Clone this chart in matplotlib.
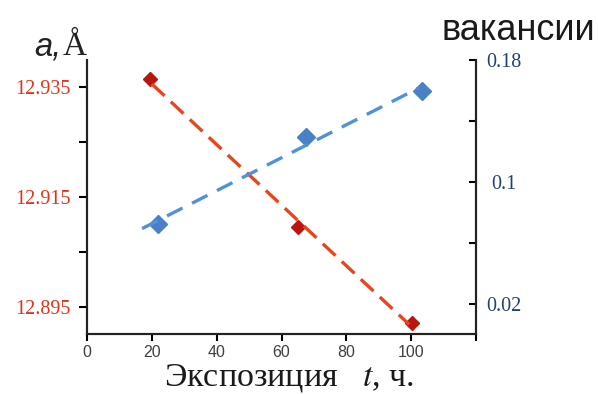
import numpy as np
import matplotlib
matplotlib.use("Agg")
import matplotlib.pyplot as plt

# Exposure time, hours
t_lattice = [19.4, 65.0, 100.2]
lattice_a = [12.9365, 12.9095, 12.8920]   # lattice parameter a, Å

t_vac = [21.8, 67.6, 103.3]
vacancies = [0.072, 0.1296, 0.1595]

x_ticks = [0, 20, 40, 60, 80, 100, 120]
x_ticklabels = ["0", "20", "40", "60", "80", "100", ""]
left_ticks = [12.895, 12.905, 12.915, 12.925, 12.935]
left_ticklabels = ["12.895", "", "12.915", "", "12.935"]
right_ticks = [0.02, 0.06, 0.10, 0.14, 0.18]
right_ticklabels = ["0.02", "", "0.1", "", "0.18"]

RED_LINE = "#e8451e"
RED_MARK = "#b8170f"
BLUE_LINE = "#4f93d6"
BLUE_MARK = "#4a80c6"

plt.rcParams["mathtext.fontset"] = "stix"

fig = plt.figure(figsize=(5.98, 3.94), dpi=100)
W, H = 598, 394
ax = fig.add_axes([87 / W, 1 - 334 / H, (476 - 87) / W, (334 - 60) / H])
ax2 = ax.twinx()

# Lattice parameter: points and linear trend
ax.plot(t_lattice, lattice_a, linestyle="none", marker="D", ms=7.5,
        color=RED_MARK, zorder=3)
k, b = np.polyfit(t_lattice, lattice_a, 1)
tt = np.array([20.0, 99.4])
ax.plot(tt, k * tt + b, color=RED_LINE, lw=2.4, dashes=(5.2, 2.6), zorder=4)

# Vacancies: points and linear trend
ax2.plot(t_vac, vacancies, linestyle="none", marker="D", ms=9.5,
         color=BLUE_MARK, zorder=3)
k2, b2 = np.polyfit(t_vac, vacancies, 1)
tv = np.array([17.0, 102.5])
ax2.plot(tv, k2 * tv + b2, color=BLUE_LINE, lw=2.4, dashes=(5.2, 3.2), zorder=4)

ax.set_xlim(0, 120)
ax.set_ylim(12.89, 12.94)
ax2.set_ylim(0, 0.18)

ax.set_xticks(x_ticks)
ax.set_xticklabels(x_ticklabels, fontsize=11.5, color="#404040",
                   family="Liberation Sans")
ax.set_yticks(left_ticks)
ax.set_yticklabels(left_ticklabels, fontsize=14.5, color="#e2321c",
                   family="Liberation Serif")
ax2.set_yticks(right_ticks)
ax2.set_yticklabels(right_ticklabels, fontsize=14.5, color="#233f80",
                    family="Liberation Serif", ha="center")

for a_ in (ax, ax2):
    a_.spines["top"].set_visible(False)
    for s in ("left", "right", "bottom"):
        a_.spines[s].set_linewidth(1.5)
        a_.spines[s].set_color("#222222")

ax.tick_params(axis="x", direction="out", length=5, width=1.5, pad=3)
ax.tick_params(axis="y", direction="out", length=6, width=1.5, pad=6)
ax2.tick_params(axis="y", direction="in", length=5, width=1.5, pad=20)

fig.text(164 / W, 1 - 386 / H, "Экспозиция   $\\mathit{t}$, ч.",
         family="Liberation Serif", fontsize=24.5, color="#1a1a1a",
         ha="left", va="baseline")

fig.text(34 / W, 1 - 55 / H, "a,", family="Liberation Sans", style="italic",
         fontsize=23.5, color="#222222", ha="left", va="baseline")
fig.text(63 / W, 1 - 55 / H, "Å", family="Liberation Serif",
         fontsize=24, color="#222222", ha="left", va="baseline")
fig.text(442 / W, 1 - 40 / H, "вакансии", family="Liberation Sans",
         fontsize=26, color="#1a1a1a", ha="left", va="baseline")

fig.savefig("out.png", dpi=100)
